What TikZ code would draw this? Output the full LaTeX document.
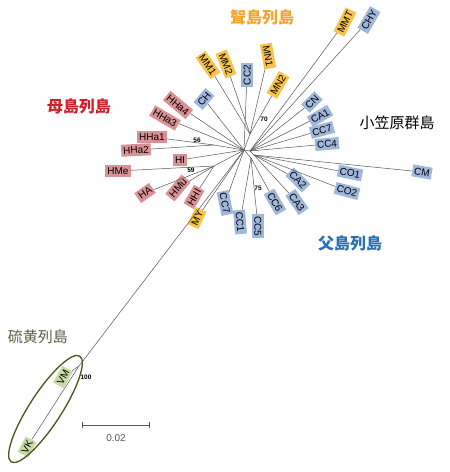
\documentclass[tikz,border=0pt]{standalone}
\usepackage{fontspec}
\setmainfont{Liberation Sans}
\newfontfamily\cjk{Noto Sans CJK JP}
\definecolor{pinkbox}{HTML}{DA9196}
\definecolor{bluebox}{HTML}{9EB7DB}
\definecolor{yellowbox}{HTML}{F6C44A}
\definecolor{greenbox}{HTML}{C6DBA4}
\definecolor{branch}{HTML}{555555}
\definecolor{ellcol}{HTML}{4B5519}
\definecolor{torange}{HTML}{EFA52E}
\definecolor{tred}{HTML}{D0202A}
\definecolor{tblue}{HTML}{2870B0}
\definecolor{tolive}{HTML}{5E5E42}
\tikzset{
  leaf/.style={inner xsep=2pt, inner ysep=0pt, minimum height=12pt,
    font=\fontsize{10}{10}\selectfont, text height=7.2pt, text depth=0pt},
  pk/.style={leaf, fill=pinkbox},
  bl/.style={leaf, fill=bluebox},
  yl/.style={leaf, fill=yellowbox},
  gr/.style={leaf, fill=greenbox},
  br/.style={draw=branch, line width=0.5pt},
  boot/.style={inner sep=0pt, font=\fontsize{6.5}{6.5}\selectfont\bfseries},
  ttl/.style={inner sep=0pt, font=\cjk\fontsize{16}{16}\selectfont}
}
\begin{document}
\begin{tikzpicture}[x=1pt,y=-1pt]
\useasboundingbox[fill=white] (0,0) rectangle (450,472);

% internal nodes
\coordinate (H) at (244,150);
\coordinate (N70) at (250,134);
\coordinate (N56) at (214,145);
\coordinate (N59) at (214,166);
\coordinate (N75) at (251,158);
\coordinate (NR) at (250,151);
\coordinate (NS) at (254,155);
\coordinate (NV) at (79,366);

% leaves
\node[yl, rotate=63] (MMT) at (345,22) {MMT};
\node[bl, rotate=60] (CHY) at (369,20) {CHY};
\node[yl, rotate=-55] (MM1) at (208,65) {MM1};
\node[yl, rotate=-68] (MM2) at (226,64) {MM2};
\node[bl, rotate=90] (CC2) at (247,75) {CC2};
\node[yl, rotate=-80] (MN1) at (268,56) {MN1};
\node[yl, rotate=60] (MN2) at (278,85) {MN2};
\node[bl, rotate=50] (CH) at (204,99) {CH};
\node[pk, rotate=-40] (HHa4) at (178,105) {HHa4};
\node[pk, rotate=-30] (HHa3) at (165,118) {HHa3};
\node[pk, rotate=0] (HHa1) at (152,137) {HHa1};
\node[pk, rotate=3] (HHa2) at (136,150) {HHa2};
\node[pk] (HI) at (180,160) {HI};
\node[pk] (HMe) at (118,171) {HMe};
\node[pk, rotate=35] (HA) at (145,193) {HA};
\node[pk, rotate=50] (HMu) at (178,188) {HMu};
\node[pk, rotate=60] (HHI) at (194,197) {HHI};
\node[yl, rotate=65] (MY) at (197,218) {MY};
\node[bl, rotate=-78] (CC7b) at (225,203) {CC7};
\node[bl, rotate=-85] (CC1) at (240,222) {CC1};
\node[bl, rotate=-90] (CC5) at (258,226) {CC5};
\node[bl, rotate=-60] (CC6) at (275,202) {CC6};
\node[bl, rotate=-55] (CA3) at (297,202) {CA3};
\node[bl, rotate=-45] (CA2) at (298,180) {CA2};
\node[bl, rotate=-12] (CO1) at (350,173) {CO1};
\node[bl, rotate=-15] (CO2) at (347,191) {CO2};
\node[bl, rotate=-10] (CM) at (422,172) {CM};
\node[bl, rotate=45] (CN) at (312,102) {CN};
\node[bl, rotate=30] (CA1) at (320,116) {CA1};
\node[bl, rotate=15] (CC7r) at (322,130) {CC7};
\node[bl, rotate=5] (CC4) at (327,144) {CC4};
\node[gr, rotate=62] (VM) at (63,377) {VM};
\node[gr, rotate=62] (VK) at (27,447) {VK};

% branches
\draw[br] (H) -- (N70);
\draw[br] (H) -- (N56);
\draw[br] (H) -- (N59);
\draw[br] (H) -- (N75);
\draw[br] (H) -- (NR);
\draw[br] (NR) -- (NS);
\draw[br] (H) -- (NV);
\foreach \l in {MM1,MM2,MN1,MN2} \draw[br] (N70) -- (\l);
\foreach \l in {CC2,CH,HHa4,HHa3,HI,MY,CC7b} \draw[br] (H) -- (\l);
\foreach \l in {HHa1,HHa2} \draw[br] (N56) -- (\l);
\foreach \l in {HMe,HA,HMu,HHI} \draw[br] (N59) -- (\l);
\foreach \l in {CC1,CC5,CC6} \draw[br] (N75) -- (\l);
\foreach \l in {MMT,CHY,CN,CA1,CC7r,CC4} \draw[br] (NR) -- (\l);
\foreach \l in {CO1,CO2,CM,CA2,CA3} \draw[br] (NS) -- (\l);
\foreach \l in {VM,VK} \draw[br] (NV) -- (\l);

% bootstrap values
\node[boot] (b70) at (264,119) {70};
\node[boot] (b56) at (197,140) {56};
\node[boot] (b59) at (191,170) {59};
\node[boot] (b75) at (258,188) {75};
\node[boot] (b100) at (86,377) {100};

% Iwo ellipse
\draw[ellcol, line width=1.3pt, rotate around={57:(45.5,409)}] (45.5,409) ellipse [x radius=63, y radius=16];

% titles
\node[ttl, text=torange, font=\cjk\bfseries\fontsize{16}{16}\selectfont] (tMuko) at (262,17) {聟島列島};
\node[ttl, text=tred, font=\cjk\bfseries\fontsize{16}{16}\selectfont] (tHaha) at (79,106) {母島列島};
\node[ttl, text=black, font=\cjk\fontsize{15}{15}\selectfont] (tOga) at (397,123) {小笠原群島};
\node[ttl, text=tblue, font=\cjk\bfseries\fontsize{16}{16}\selectfont] (tChichi) at (350,243) {父島列島};
\node[ttl, text=tolive, font=\cjk\fontsize{15}{15}\selectfont] (tIwo) at (38,337) {硫黄列島};

% scale bar
\coordinate (s1) at (82,425);
\coordinate (s2) at (149,425);
\draw[branch, line width=0.7pt] (s1) -- (s2);
\draw[branch, line width=0.7pt] ([yshift=-3pt]s1) -- ([yshift=3pt]s1);
\draw[branch, line width=0.7pt] ([yshift=-3pt]s2) -- ([yshift=3pt]s2);
\node[inner sep=0pt, font=\fontsize{10}{10}\selectfont, text=branch] (sl) at (116,438) {0.02};
\end{tikzpicture}
\end{document}
